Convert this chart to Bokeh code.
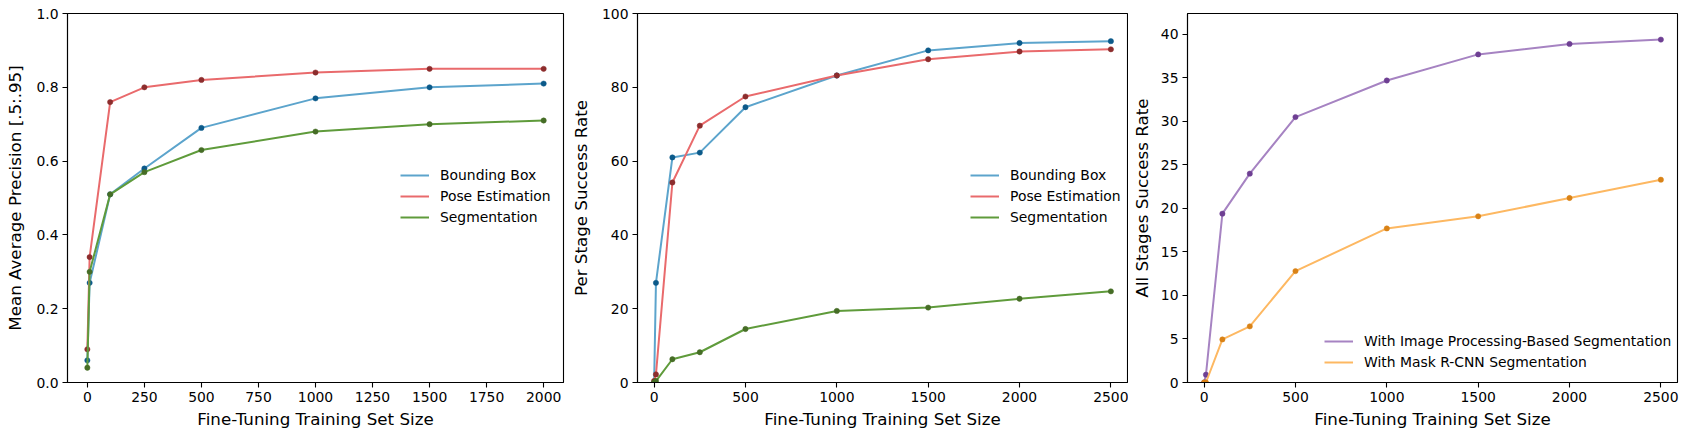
from bokeh.plotting import figure
from bokeh.layouts import row
from bokeh.models import Range1d, FixedTicker, PrintfTickFormatter, Legend, LegendItem
from bokeh.embed import file_html
from bokeh.resources import INLINE

# ---- data ----
x1 = [0, 10, 100, 250, 500, 1000, 1500, 2000]
map_bbox = [0.06, 0.27, 0.51, 0.58, 0.69, 0.77, 0.80, 0.81]
map_pose = [0.09, 0.34, 0.76, 0.80, 0.82, 0.84, 0.85, 0.85]
map_seg = [0.04, 0.30, 0.51, 0.57, 0.63, 0.68, 0.70, 0.71]

x2 = [0, 10, 100, 250, 500, 1000, 1500, 2000, 2500]
ps_bbox = [0.0, 27.0, 61.0, 62.3, 74.6, 83.2, 90.0, 92.0, 92.5]
ps_pose = [0.4, 2.2, 54.2, 69.6, 77.5, 83.2, 87.6, 89.7, 90.3]
ps_seg = [0.0, 0.4, 6.3, 8.2, 14.5, 19.4, 20.3, 22.7, 24.7]

x3 = [0, 10, 100, 250, 500, 1000, 1500, 2000, 2500]
all_imgproc = [0.0, 0.9, 19.4, 24.0, 30.5, 34.7, 37.7, 38.9, 39.4]
all_maskrcnn = [0.0, 0.0, 4.95, 6.45, 12.8, 17.7, 19.1, 21.2, 23.3]

labels_stage = ["Bounding Box", "Pose Estimation", "Segmentation"]
labels_all = ["With Image Processing-Based Segmentation", "With Mask R-CNN Segmentation"]

x_ticks1 = [0, 250, 500, 750, 1000, 1250, 1500, 1750, 2000]
x_ticks23 = [0, 500, 1000, 1500, 2000, 2500]
y_ticks1 = [0.0, 0.2, 0.4, 0.6, 0.8, 1.0]
y_ticks2 = [0, 20, 40, 60, 80, 100]
y_ticks3 = [0, 5, 10, 15, 20, 25, 30, 35, 40]

# ---- styles ----
C_BBOX = ("#5ca4cc", "#0c5a8a")
C_POSE = ("#e96a6c", "#8c2d2d")
C_SEG = ("#5f9b3b", "#466d26")
C_PURP = ("#a683c2", "#6e3f93")
C_ORNG = ("#fdb862", "#d98216")

FONT = "DejaVu Sans"
TICK_FS = "13.9px"
LABEL_FS = "16.7px"


def make_fig(width, xr, yr, xticks, yticks, xlabel, ylabel, bl, br, ystand, yfmt=None):
    p = figure(width=width, height=435, output_backend="svg", toolbar_location=None,
               x_range=Range1d(*xr), y_range=Range1d(*yr),
               min_border_left=bl, min_border_right=br, min_border_top=13, min_border_bottom=53)
    p.grid.visible = False
    p.outline_line_color = "black"
    p.outline_line_width = 1.1
    p.background_fill_color = "white"
    p.border_fill_color = "white"
    for ax in (p.xaxis[0], p.yaxis[0]):
        ax.axis_line_color = "black"
        ax.axis_line_width = 1.1
        ax.major_tick_line_color = "black"
        ax.major_tick_line_width = 1.1
        ax.major_tick_in = 0
        ax.major_tick_out = 5
        ax.minor_tick_line_color = None
        ax.major_label_text_font = FONT
        ax.major_label_text_font_size = TICK_FS
        ax.major_label_text_color = "black"
        ax.axis_label_text_font = FONT
        ax.axis_label_text_font_size = LABEL_FS
        ax.axis_label_text_font_style = "normal"
        ax.axis_label_text_color = "black"
    p.xaxis[0].ticker = FixedTicker(ticks=xticks)
    p.yaxis[0].ticker = FixedTicker(ticks=yticks)
    if yfmt:
        p.yaxis[0].formatter = PrintfTickFormatter(format=yfmt)
    p.xaxis[0].axis_label = xlabel
    p.yaxis[0].axis_label = ylabel
    p.xaxis[0].major_label_standoff = 4
    p.xaxis[0].axis_label_standoff = 4
    p.yaxis[0].major_label_standoff = 4
    p.yaxis[0].axis_label_standoff = ystand
    return p


def add_series(p, xs, ys, colors):
    ln = p.line(xs, ys, line_color=colors[0], line_width=2)
    p.scatter(xs, ys, size=5.3, fill_color=colors[1], line_color=colors[1], line_width=0.5)
    return ln


def add_legend(p, renderers, labels, loc):
    items = [LegendItem(label=l, renderers=[r]) for l, r in zip(labels, renderers)]
    lg = Legend(items=items, location=loc, padding=0, margin=0,
                border_line_alpha=0, background_fill_alpha=0,
                glyph_width=29, glyph_height=16, label_height=16, label_standoff=11,
                spacing=5, label_text_font=FONT, label_text_font_size=TICK_FS,
                label_text_color="black")
    p.add_layout(lg, "center")


XL = "Fine-Tuning Training Set Size"

p1 = make_fig(567, (-87, 2087), (0, 1.0), x_ticks1, y_ticks1, XL,
              "Mean Average Precision [.5:.95]", 67, 4, 8, yfmt="%.1f")
r = [add_series(p1, x1, map_bbox, C_BBOX),
     add_series(p1, x1, map_pose, C_POSE),
     add_series(p1, x1, map_seg, C_SEG)]
add_legend(p1, r, labels_stage, (333, 157))

p2 = make_fig(561, (-91, 2591), (0, 100), x_ticks23, y_ticks2, XL,
              "Per Stage Success Rate", 64, 1, 8)
r = [add_series(p2, x2, ps_bbox, C_BBOX),
     add_series(p2, x2, ps_pose, C_POSE),
     add_series(p2, x2, ps_seg, C_SEG)]
add_legend(p2, r, labels_stage, (333, 157))

p3 = make_fig(556, (-91, 2591), (0, 42.4), x_ticks23, y_ticks3, XL,
              "All Stages Success Rate", 53, 7, 6)
r = [add_series(p3, x3, all_imgproc, C_PURP),
     add_series(p3, x3, all_maskrcnn, C_ORNG)]
add_legend(p3, r, labels_all, (137, 12))

layout = row(p1, p2, p3)
open("out.html", "w").write(file_html(layout, INLINE))
